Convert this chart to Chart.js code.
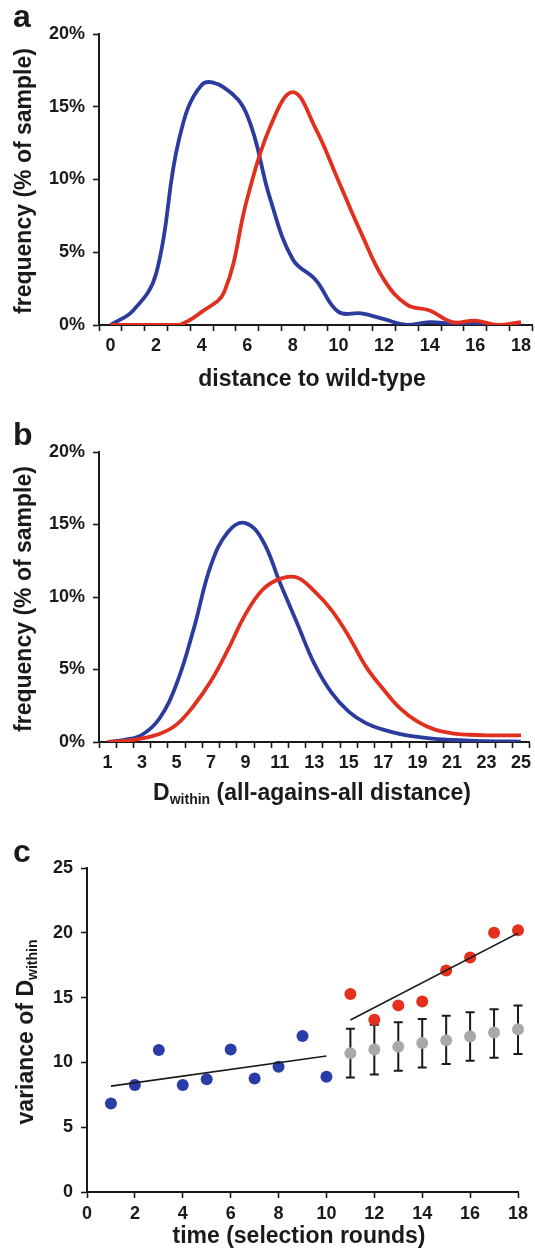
<!DOCTYPE html>
<html>
<head>
<meta charset="utf-8">
<title>Distance distributions and variance of D within</title>
<script src="https://cdn.jsdelivr.net/npm/chart.js@4.4.1/dist/chart.umd.min.js"></script>
<style>
    html, body { margin: 0; padding: 0; background: #fff; }
    body {
        width: 535px; height: 1259px; position: relative; overflow: hidden;
        font-family: 'Liberation Sans', Arial, Helvetica, sans-serif; color: #1a1a1a;
    }
    canvas { position: absolute; left: 0; }
    .panel-letter { position: absolute; font-weight: bold; font-size: 32px; line-height: 1; }
    .title {
        position: absolute; font-weight: bold; font-size: 23px; line-height: 1;
        white-space: nowrap; transform: translate(-50%, -50%);
    }
    .title.rot { transform: translate(-50%, -50%) rotate(-90deg); }
    .title sub { font-size: 14px; line-height: 0; vertical-align: -0.32em; }
</style>
</head>
<body>
<canvas id="chartA" width="535" height="400" style="top:0"></canvas>
<canvas id="chartB" width="535" height="430" style="top:400px"></canvas>
<canvas id="chartC" width="535" height="429" style="top:830px"></canvas>

<div class="panel-letter" style="left:13px;top:0px">a</div>
<div class="title rot" style="left:23px;top:181px">frequency (% of sample)</div>
<div class="title" style="left:312px;top:378px">distance to wild-type</div>

<div class="panel-letter" style="left:13px;top:418px">b</div>
<div class="title rot" style="left:23px;top:599px">frequency (% of sample)</div>
<div class="title" style="left:312px;top:792px">D<sub>within</sub> (all-agains-all distance)</div>

<div class="panel-letter" style="left:13px;top:835px">c</div>
<div class="title rot" style="left:25px;top:1032px">variance of D<sub>within</sub></div>
<div class="title" style="left:299px;top:1235px">time (selection rounds)</div>

<script>
// ========== Data: panel a (distance to wild-type) ==========
const wtDistance = ['0', '1', '2', '3', '4', '5', '6', '7', '8', '9', '10', '11', '12', '13', '14', '15', '16', '17', '18'];
const blueWt = [0, 1.0, 3.5, 12.7, 16.5, 16.3, 14.4, 8.7, 4.5, 3.1, 0.9, 0.8, 0.4, 0.0, 0.2, 0.1, 0.1, 0.0, 0.0];
const redWt = [0, 0, 0, 0, 0.9, 2.3, 8.7, 13.6, 16.0, 13.5, 9.9, 6.3, 3.1, 1.4, 1.0, 0.2, 0.3, 0.0, 0.2];

// ========== Data: panel b (D within) ==========
const withinDistance = ['1', '2', '3', '4', '5', '6', '7', '8', '9', '10', '11', '12', '13', '14', '15', '16', '17', '18', '19', '20', '21', '22', '23', '24', '25'];
const blueWithin = [0, 0.15, 0.5, 1.6, 4.0, 7.8, 12.2, 14.5, 15.1, 13.9, 11.0, 8.2, 5.4, 3.4, 2.1, 1.3, 0.85, 0.55, 0.35, 0.22, 0.14, 0.09, 0.06, 0.04, 0.03];
const redWithin = [0, 0.07, 0.25, 0.55, 1.2, 2.5, 4.2, 6.4, 8.8, 10.5, 11.25, 11.35, 10.4, 9.1, 7.3, 5.2, 3.65, 2.3, 1.4, 0.85, 0.6, 0.5, 0.46, 0.46, 0.46];

// ========== Data: panel c (variance over time) ==========
const roundsEarly = [1, 2, 3, 4, 5, 6, 7, 8, 9, 10];
const varEarly = [6.83, 8.25, 10.95, 8.25, 8.7, 11.0, 8.76, 9.66, 12.04, 8.9];
const roundsLate = [11, 12, 13, 14, 15, 16, 17, 18];
const varLate = [15.28, 13.3, 14.4, 14.7, 17.1, 18.1, 20.0, 20.2];
const varNull = [10.7, 11.0, 11.2, 11.5, 11.7, 12.0, 12.3, 12.55];
const nullLow = [8.84, 9.07, 9.36, 9.6, 9.87, 10.13, 10.36, 10.64];
const nullHigh = [12.6, 12.9, 13.1, 13.35, 13.6, 13.87, 14.1, 14.4];
const trendEarlyX = [1, 10];
const trendEarlyY = [8.17, 10.5];
const trendLateX = [11, 18];
const trendLateY = [13.27, 19.97];

// ========== Colors ==========
const BLUE = '#2b3c9e';
const RED = '#e2301f';
const DOT_BLUE = '#2a3ca8';
const DOT_RED = '#e5301e';
const GREY = '#a9a9a9';
const INK = '#1a1a1a';

Chart.defaults.font.family = "'Liberation Sans', Arial, Helvetica, sans-serif";
Chart.defaults.font.weight = 'bold';
Chart.defaults.font.size = 18;
Chart.defaults.color = INK;

document.addEventListener('DOMContentLoaded', () => {
    initChartA();
    initChartB();
    initChartC();
});

// shared axis look: only the axis line and outward tick marks
function axisGrid(offset) {
    return {
        offset: offset,
        drawOnChartArea: false,
        drawTicks: true,
        tickLength: 6,
        tickWidth: 1.6,
        color: INK
    };
}

function baseOptions(padding) {
    return {
        responsive: false,
        animation: false,
        devicePixelRatio: 1,
        layout: { padding: padding },
        plugins: { legend: { display: false }, tooltip: { enabled: false } }
    };
}

function pctAxis(width) {
    return {
        min: 0,
        max: 20,
        grid: axisGrid(false),
        border: { display: true, color: INK, width: 2 },
        ticks: { stepSize: 5, padding: 8, callback: v => v + '%' },
        afterFit: s => { s.width = width; }
    };
}

function categoryAxis(labels, height) {
    return {
        type: 'category',
        offset: true,
        grid: axisGrid(true),
        border: { display: true, color: INK, width: 2 },
        ticks: {
            autoSkip: false,
            maxRotation: 0,
            padding: 4,
            callback: (v, i) => (i % 2 === 0 ? labels[i] : '')
        },
        afterFit: s => { s.height = height; }
    };
}

function curve(data, color) {
    return {
        data: data,
        borderColor: color,
        borderWidth: 3.8,
        tension: 0.4,
        pointRadius: 0,
        fill: false
    };
}

// ========== Panel a ==========
function initChartA() {
    const opts = baseOptions({ top: 34, right: 2, left: 0, bottom: 0 });
    opts.scales = { x: categoryAxis(wtDistance, 75), y: pctAxis(99) };
    new Chart(document.getElementById('chartA'), {
        type: 'line',
        data: { labels: wtDistance, datasets: [curve(redWt, RED), curve(blueWt, BLUE)] },
        options: opts
    });
}

// ========== Panel b ==========
function initChartB() {
    const opts = baseOptions({ top: 52, right: 2, left: 0, bottom: 0 });
    opts.scales = { x: categoryAxis(withinDistance, 88), y: pctAxis(99) };
    new Chart(document.getElementById('chartB'), {
        type: 'line',
        data: { labels: withinDistance, datasets: [curve(redWithin, RED), curve(blueWithin, BLUE)] },
        options: opts
    });
}

// ========== Panel c: error bars of the null model ==========
const nullErrorBars = {
    id: 'nullErrorBars',
    beforeDatasetsDraw(chart) {
        const { ctx } = chart;
        const x = chart.scales.x;
        const y = chart.scales.y;
        ctx.save();
        ctx.strokeStyle = INK;
        ctx.lineWidth = 2;
        roundsLate.forEach((r, i) => {
            const px = x.getPixelForValue(r);
            const top = y.getPixelForValue(nullHigh[i]);
            const bot = y.getPixelForValue(nullLow[i]);
            ctx.beginPath();
            ctx.moveTo(px, top); ctx.lineTo(px, bot);
            ctx.moveTo(px - 4.5, top); ctx.lineTo(px + 4.5, top);
            ctx.moveTo(px - 4.5, bot); ctx.lineTo(px + 4.5, bot);
            ctx.stroke();
        });
        ctx.restore();
    }
};

function points(xs, ys) {
    return xs.map((x, i) => ({ x: x, y: ys[i] }));
}

function initChartC() {
    const dot = (data, color) => ({
        data: data,
        backgroundColor: color,
        borderWidth: 0,
        pointRadius: 6,
        clip: false
    });
    const trend = data => ({
        data: data,
        showLine: true,
        borderColor: INK,
        borderWidth: 1.6,
        pointRadius: 0
    });

    const opts = baseOptions({ top: 38, right: 17, left: 0, bottom: 0 });
    opts.scales = {
        x: {
            type: 'linear',
            min: 0,
            max: 18,
            grid: axisGrid(false),
            border: { display: true, color: INK, width: 2 },
            ticks: { stepSize: 2, padding: 5 },
            afterFit: s => { s.height = 67; }
        },
        y: {
            min: 0,
            max: 25,
            grid: axisGrid(false),
            border: { display: true, color: INK, width: 2 },
            ticks: { stepSize: 5, padding: 8 },
            afterFit: s => { s.width = 87; }
        }
    };

    new Chart(document.getElementById('chartC'), {
        type: 'scatter',
        data: {
            datasets: [
                trend(points(trendEarlyX, trendEarlyY)),
                trend(points(trendLateX, trendLateY)),
                dot(points(roundsEarly, varEarly), DOT_BLUE),
                dot(points(roundsLate, varLate), DOT_RED),
                dot(points(roundsLate, varNull), GREY)
            ]
        },
        options: opts,
        plugins: [nullErrorBars]
    });
}
</script>
</body>
</html>
